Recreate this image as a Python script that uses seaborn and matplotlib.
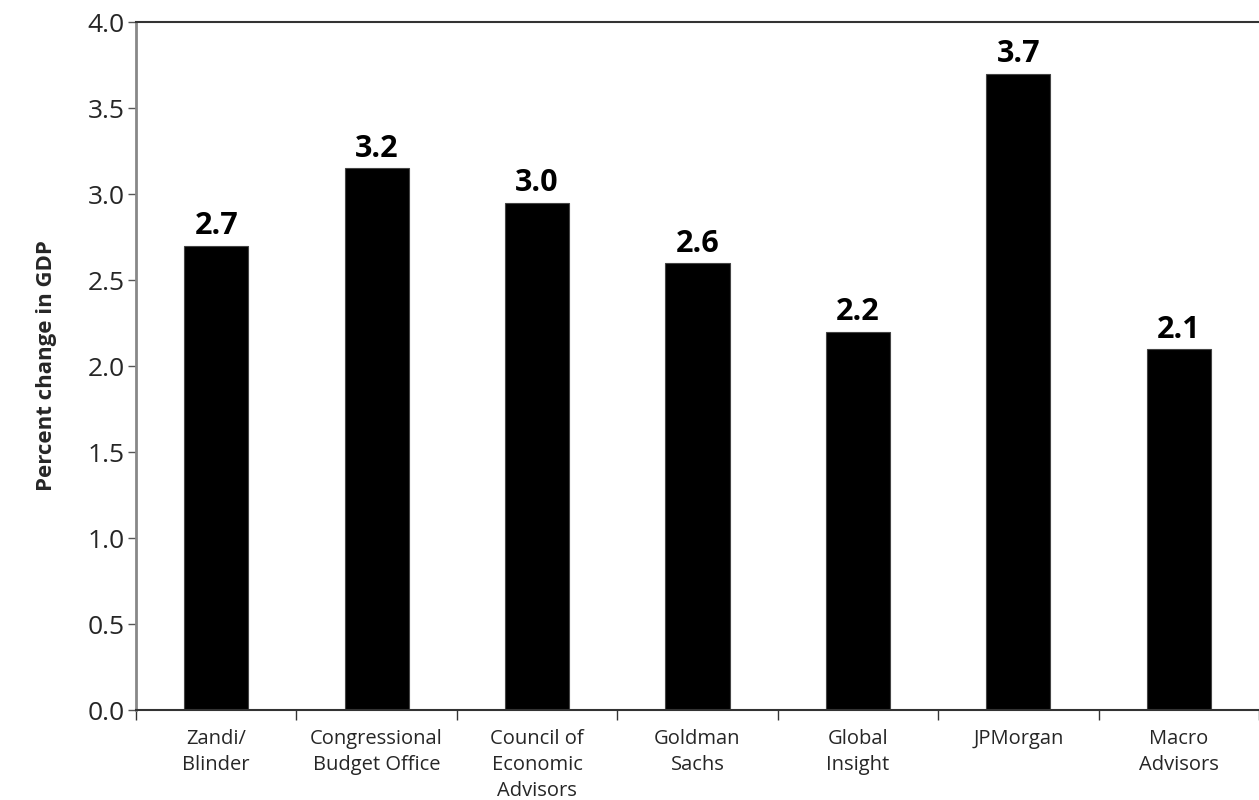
import matplotlib
matplotlib.use("Agg")
import matplotlib.pyplot as plt
import seaborn as sns
import pandas as pd

categories = ["Zandi/\nBlinder", "Congressional\nBudget Office", "Council of\nEconomic\nAdvisors",
              "Goldman\nSachs", "Global\nInsight", "JPMorgan", "Macro\nAdvisors"]
values = [2.7, 3.15, 2.95, 2.6, 2.2, 3.7, 2.1]
value_labels = ["2.7", "3.2", "3.0", "2.6", "2.2", "3.7", "2.1"]
y_ticks = [0.0, 0.5, 1.0, 1.5, 2.0, 2.5, 3.0, 3.5, 4.0]

sns.set_theme(style="white")
plt.rcParams['font.family'] = ['Open Sans', 'DejaVu Sans']

df = pd.DataFrame({"cat": categories, "val": values})

fig = plt.figure(figsize=(12.59, 8.0), dpi=100)
ax = fig.add_axes([0.108, 0.1125, 0.892, 0.86])
sns.barplot(data=df, x="cat", y="val", color="black", width=0.4, ax=ax,
            saturation=1, edgecolor="#444444", linewidth=0.8)

for i, (v, lab) in enumerate(zip(values, value_labels)):
    ax.text(i, v + 0.025, lab, ha="center", va="bottom", fontsize=22, fontweight="bold", color="black")

ax.set_ylim(0, 4.0)
ax.set_xlim(-0.5, len(categories) - 0.5)
ax.set_yticks(y_ticks)
ax.set_yticklabels([f"{t:.1f}" for t in y_ticks], fontsize=19)
ax.set_xticks(range(len(categories)))
ax.set_xticklabels(categories, fontsize=14.5, linespacing=1.38)
ax.set_xticks([i - 0.5 for i in range(len(categories) + 1)], minor=True)
ax.tick_params(axis="x", which="major", length=0, pad=14)
ax.tick_params(axis="x", which="minor", length=7, width=1, color="#333333", direction="out", bottom=True)
ax.tick_params(axis="y", which="major", length=6, width=1, color="#555555", direction="out", left=True, pad=2)

ax.set_xlabel("")
ax.set_ylabel("Percent change in GDP", fontsize=16, fontweight="bold", labelpad=22)

ax.spines["right"].set_visible(False)
ax.spines["left"].set_color("#888888")
ax.spines["left"].set_linewidth(2)
ax.spines["top"].set_color("#333333")
ax.spines["top"].set_linewidth(1.5)
ax.spines["bottom"].set_color("#333333")
ax.spines["bottom"].set_linewidth(1.5)

fig.savefig("out.png", dpi=100)
